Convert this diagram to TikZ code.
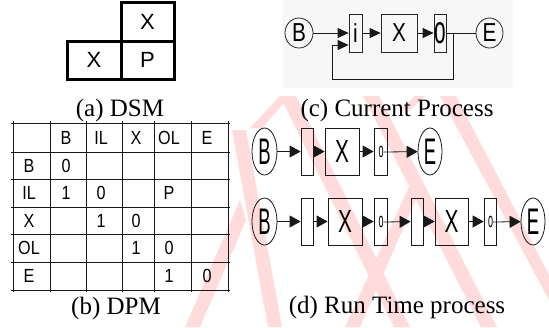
\documentclass[tikz,border=0pt]{standalone}
\usepackage{fontspec}
\setmainfont{Liberation Serif}
\newfontfamily\sfx{Liberation Sans}
\usetikzlibrary{arrows.meta,shapes.geometric}
\newcommand{\tc}[1]{\scalebox{0.85}[1]{#1}}
\newcommand{\cc}[1]{\scalebox{0.8}[1]{#1}}
\begin{document}
\begin{tikzpicture}[x=1pt,y=-1pt,
  wm/.style={fill=red!14,draw=none},
  dsmbox/.style={draw,line width=3pt,inner sep=0pt,font=\sfx\fontsize{22}{22}\selectfont},
  captxt/.style={font=\fontsize{25}{25}\selectfont,inner sep=0pt,anchor=base},
  celltxt/.style={font=\sfx\fontsize{19}{19}\selectfont,inner sep=0pt},
  gridln/.style={line width=0.8pt,draw=black!90},
  cbox/.style={draw=black!85,line width=0.8pt,inner sep=0pt,font=\sfx\fontsize{26}{26}\selectfont},
  cell2/.style={draw=black!85,line width=0.8pt,shape=ellipse,inner sep=0pt,font=\sfx\fontsize{26}{26}\selectfont},
  dbox/.style={draw=black!90,line width=0.8pt,inner sep=0pt,minimum height=47pt},
  dell/.style={draw=black!90,line width=0.8pt,shape=ellipse,inner sep=0pt,minimum width=25pt,minimum height=47pt},
  osm/.style={inner sep=0pt,font=\sfx\fontsize{20}{20}\selectfont},
  arrc/.style={-{Triangle[length=11pt,width=10pt]},line width=0.8pt,draw=black!90},
  arrd/.style={-{Triangle[length=11pt,width=12pt]},line width=0.8pt,draw=black!90},
  linec/.style={line width=0.8pt,draw=black!90}
]
\useasboundingbox (0,0) rectangle (549,327);
\fill[white] (0,0) rectangle (549,327);
% watermark bands
\fill[wm] (232,130) -- (246,130) -- (282,327) -- (268,327) -- cycle;
\fill[wm] (280,96) -- (296,96) -- (410,327) -- (394,327) -- cycle;
\fill[wm] (363,96) -- (379,96) -- (497,327) -- (481,327) -- cycle;
\fill[wm] (440,96) -- (456,96) -- (549,275) -- (549,300) -- cycle;
\fill[wm] (185,327) -- (200,327) -- (246,220) -- (240,200) -- cycle;
\fill[wm] (345,327) -- (360,327) -- (420,190) -- (412,180) -- cycle;
\fill[wm] (250,128) -- (262,128) -- (290,96) -- (280,96) -- cycle;
\fill[wm] (400,110) -- (410,110) -- (425,96) -- (415,96) -- cycle;
% (c) panel
\fill[black!3] (283,0) rectangle (513,88);

% (a) DSM
\node[dsmbox,minimum width=53pt,minimum height=39pt] (a1) at (147.5,21.5) {X};
\node[dsmbox,minimum width=54pt,minimum height=38pt] (a2) at (94,60) {X};
\node[dsmbox,minimum width=53pt,minimum height=38pt] (a3) at (147.5,60) {P};
\node[captxt] (capa) at (120,116) {(a) DSM};

% (b) DPM grid
\foreach \x in {13,50,86,122,154,191,228} \draw[gridln] (\x,121) -- (\x,292);
\foreach \y in {123,152,179,207,234,262,290} \draw[gridln] (11,\y) -- (230,\y);
\node[celltxt] (h1) at (66,137.5) {\tc{B}};
\node[celltxt] (h2) at (101,137.5) {\tc{IL}};
\node[celltxt] (h3) at (136,137.5) {\tc{X}};
\node[celltxt] (h4) at (169,137.5) {\tc{OL}};
\node[celltxt] (h5) at (207,137.5) {\tc{E}};
\node[celltxt] (r1) at (29,165.5) {\tc{B}};
\node[celltxt] (r2) at (29,193) {\tc{IL}};
\node[celltxt] (r3) at (29,220.5) {\tc{X}};
\node[celltxt] (r4) at (29,248) {\tc{OL}};
\node[celltxt] (r5) at (29,276) {\tc{E}};
\node[celltxt] (v11) at (66,165.5) {\tc{0}};
\node[celltxt] (v21) at (66,193) {\tc{1}};
\node[celltxt] (v22) at (101,193) {\tc{0}};
\node[celltxt] (v24) at (169,193) {\tc{P}};
\node[celltxt] (v32) at (101,220.5) {\tc{1}};
\node[celltxt] (v33) at (136,220.5) {\tc{0}};
\node[celltxt] (v43) at (136,248) {\tc{1}};
\node[celltxt] (v44) at (169,248) {\tc{0}};
\node[celltxt] (v54) at (169,276) {\tc{1}};
\node[celltxt] (v55) at (207,276) {\tc{0}};
\node[captxt] (capb) at (116,314) {(b) DPM};

% (c) Current process
\node[cell2,minimum width=28pt,minimum height=30pt] (cB) at (299,33) {\cc{B}};
\node[cbox,minimum width=13pt,minimum height=38pt] (ci) at (355.5,33) {\cc{i}};
\node[cbox,minimum width=36pt,minimum height=38pt] (cX) at (399,33) {\cc{X}};
\node[cbox,minimum width=12pt,minimum height=38pt] (co) at (440,33) {\scalebox{0.8}[1.5]{o}};
\node[cell2,minimum width=27pt,minimum height=30pt] (cE) at (489.5,33) {\cc{E}};
\coordinate (j) at (453,33);
\coordinate (l1) at (453,79);
\coordinate (l2) at (332,45);
\draw[arrc] (cB) -- (ci);
\draw[arrc] (ci) -- (cX);
\draw[arrc] (cX) -- (co);
\draw[linec] (co) -- (cE);
\draw[arrc] (j) -- (l1) -| (l2) -- (l2 -| ci.west);
\node[captxt] (capc) at (397,116) {(c) Current Process};

% (d) Run time process
\newcommand{\bigB}{\scalebox{0.5}[1]{\sfx\fontsize{37}{37}\selectfont B}}
\newcommand{\bigE}{\scalebox{0.5}[1]{\sfx\fontsize{37}{37}\selectfont E}}
\newcommand{\bigX}{\scalebox{0.65}[1]{\sfx\fontsize{32}{32}\selectfont X}}
\newcommand{\smo}{\scalebox{0.45}[1.05]{o}}
% row 1
\node[dell] (dB1) at (264.5,151.5) {\bigB};
\node[dbox,minimum width=12pt] (dI1) at (307,151.5) {};
\node[dbox,minimum width=34pt] (dX1) at (342,151.5) {\bigX};
\node[dbox,minimum width=13pt] (dO1) at (380.5,151.5) {};
\node[osm] (o1) at (381,152) {\smo};
\node[dell,minimum width=24pt] (dE1) at (430,151.5) {\bigE};
\draw[arrd] (dB1) -- (dI1);
\draw[arrd] (dI1) -- (dX1);
\draw[arrd] (dX1) -- (dO1);
\draw[arrd] (o1.east) -- (dE1);
% row 2
\node[dell] (dB2) at (264.5,221.5) {\bigB};
\node[dbox,minimum width=12pt] (dI2) at (307,221.5) {};
\node[dbox,minimum width=34pt] (dX2) at (345,221.5) {\bigX};
\node[dbox,minimum width=13pt] (dO2) at (380.5,221.5) {};
\node[osm] (o2) at (381,222) {\smo};
\node[dbox,minimum width=12pt] (dI3) at (417,221.5) {};
\node[dbox,minimum width=33pt] (dX3) at (451.5,221.5) {\bigX};
\node[dbox,minimum width=12pt] (dO3) at (490,221.5) {};
\node[osm] (o3) at (490.5,222) {\smo};
\node[dell,minimum width=24pt] (dE2) at (533,221.5) {\bigE};
\draw[arrd] (dB2) -- (dI2);
\draw[arrd] (dI2) -- (dX2);
\draw[arrd] (dX2) -- (dO2);
\draw[arrd] (o2.east) -- (dI3);
\draw[arrd] (dI3) -- (dX3);
\draw[arrd] (dX3) -- (dO3);
\draw[arrd] (o3.east) -- (dE2);
\node[captxt] (capd) at (397,313) {(d) Run Time process};
\end{tikzpicture}
\end{document}
